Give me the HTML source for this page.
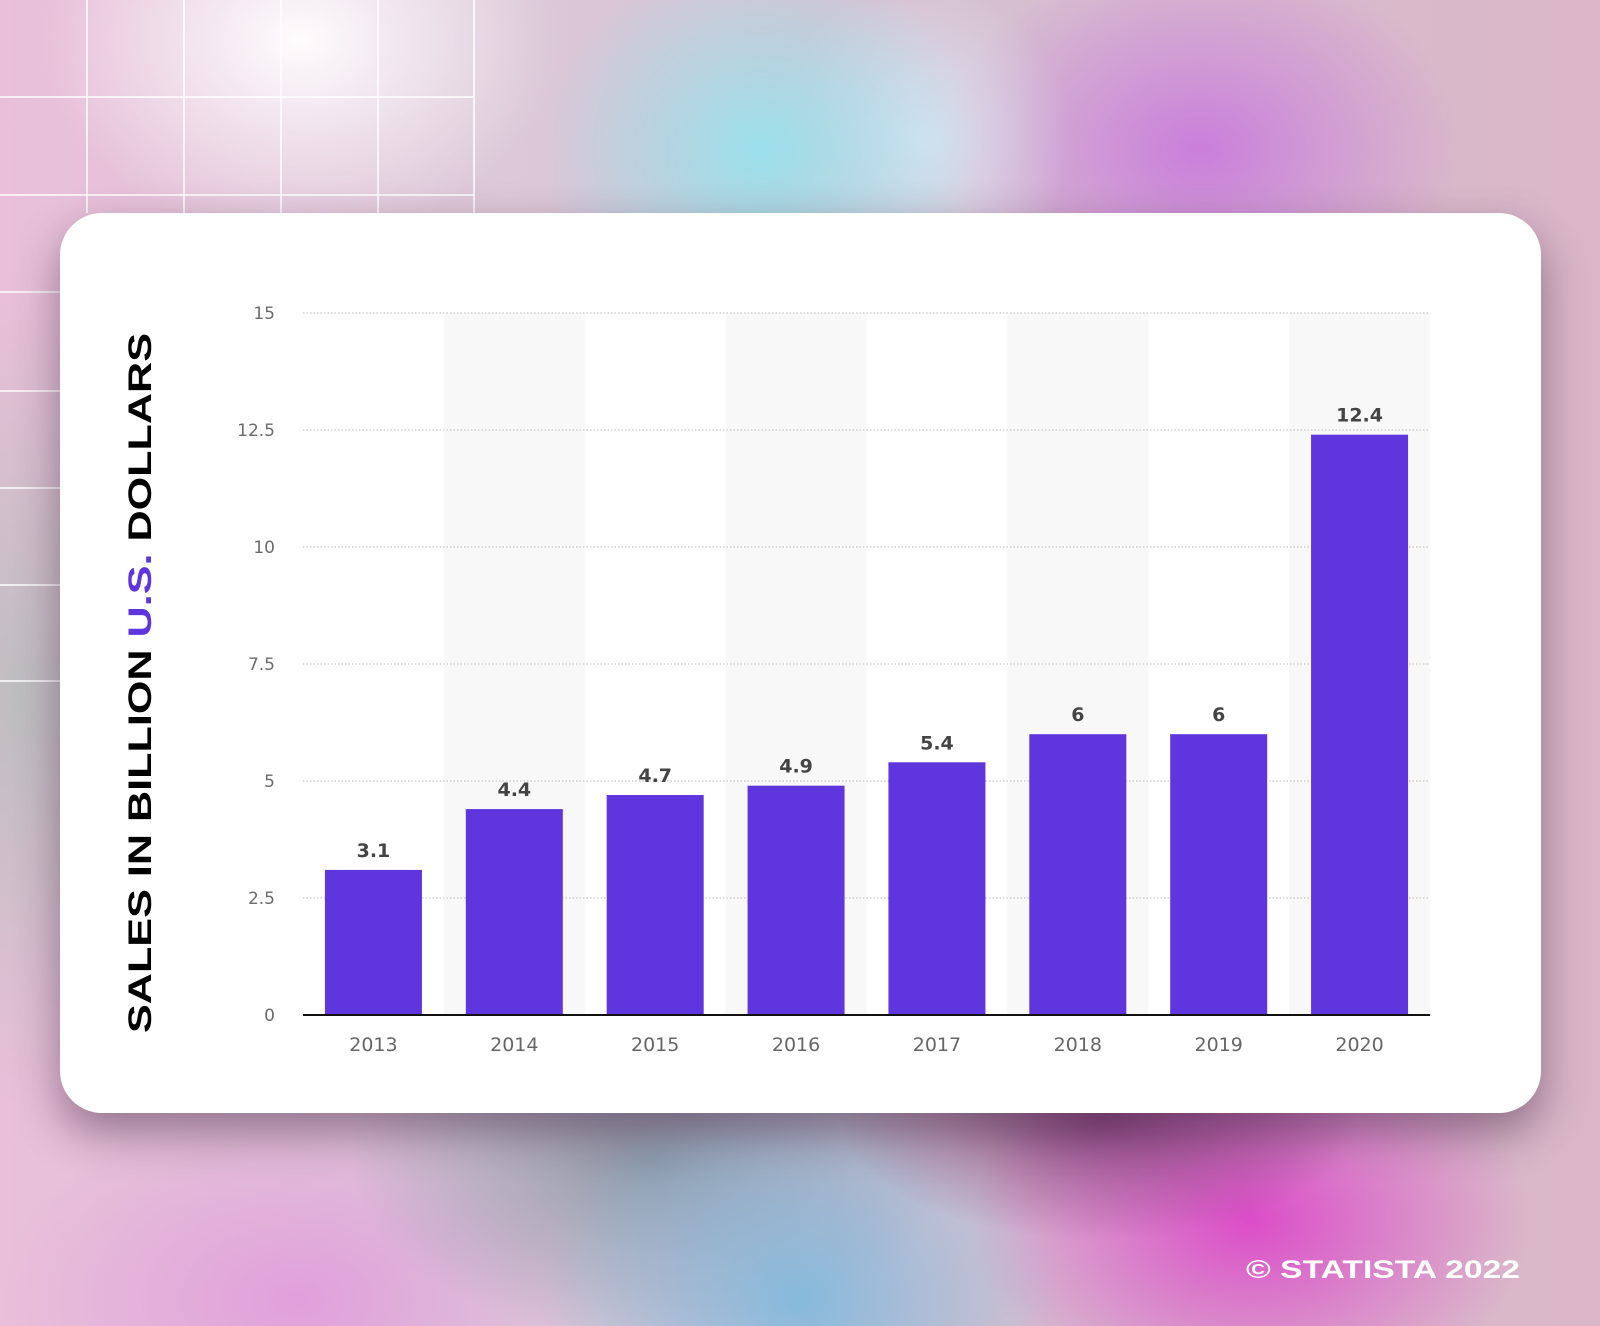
<!DOCTYPE html>
<html><head><meta charset="utf-8"><style>
html,body{margin:0;padding:0}
body{width:1600px;height:1326px;overflow:hidden;position:relative;font-family:"Liberation Sans",sans-serif;
background:
radial-gradient(ellipse 260px 200px at 300px 40px,rgba(255,255,255,0.95),rgba(255,255,255,0) 100%),
radial-gradient(ellipse 220px 200px at 760px 150px,rgba(150,225,235,0.95),rgba(150,225,235,0) 100%),
radial-gradient(ellipse 150px 160px at 920px 140px,rgba(220,230,245,0.9),rgba(220,230,245,0) 100%),
radial-gradient(ellipse 260px 200px at 1200px 150px,rgba(200,120,220,0.9),rgba(200,120,220,0) 100%),
radial-gradient(ellipse 260px 120px at 1100px 1120px,rgba(120,50,110,0.75),rgba(120,50,110,0) 100%),
radial-gradient(ellipse 260px 220px at 800px 1300px,rgba(130,185,220,0.95),rgba(130,185,220,0) 100%),
radial-gradient(ellipse 280px 200px at 1250px 1220px,rgba(220,70,200,0.95),rgba(220,70,200,0) 100%),
radial-gradient(ellipse 300px 180px at 650px 1160px,rgba(130,145,160,0.85),rgba(130,145,160,0) 100%),
radial-gradient(ellipse 300px 200px at 300px 1300px,rgba(225,150,220,0.8),rgba(225,150,220,0) 100%),
radial-gradient(ellipse 200px 400px at 20px 700px,rgba(170,190,180,0.7),rgba(170,190,180,0) 100%),
linear-gradient(90deg,#e9bfd9 0%,#dcc8d8 30%,#d6c0d0 60%,#dab6c8 100%);}
.card{position:absolute;left:60px;top:213px;width:1481px;height:900px;background:#fff;border-radius:42px;box-shadow:0 20px 45px rgba(50,20,50,0.45)}
</style></head><body>
<svg width="1600" height="1326" style="position:absolute;left:0;top:0">
<g stroke="rgba(255,255,255,0.75)" stroke-width="2">
<line x1="87" y1="0" x2="87" y2="213"/><line x1="184" y1="0" x2="184" y2="213"/><line x1="281" y1="0" x2="281" y2="213"/><line x1="378" y1="0" x2="378" y2="213"/><line x1="474" y1="0" x2="474" y2="213"/>
<line x1="0" y1="97" x2="474" y2="97"/><line x1="0" y1="195" x2="474" y2="195"/>
<line x1="0" y1="292" x2="60" y2="292"/><line x1="0" y1="391" x2="60" y2="391"/><line x1="0" y1="488" x2="60" y2="488"/><line x1="0" y1="585" x2="60" y2="585"/><line x1="0" y1="681" x2="60" y2="681"/>
</g></svg>
<div class="card"></div>
<svg id="chart" width="1600" height="1326" style="position:absolute;left:0;top:0">
<text transform="translate(151,1033) rotate(-90)" font-family="Liberation Sans, sans-serif" font-weight="bold" font-size="32" textLength="700" lengthAdjust="spacingAndGlyphs" fill="#000">SALES IN BILLION <tspan fill="#5f35dd">U.S.</tspan> DOLLARS</text>
<text x="1520" y="1278" text-anchor="end" font-family="Liberation Sans, sans-serif" font-weight="bold" font-size="25" textLength="274" lengthAdjust="spacingAndGlyphs" fill="#fff">© STATISTA 2022</text>
</svg>
<script>
const categories=["2013","2014","2015","2016","2017","2018","2019","2020"];
const values=[3.1,4.4,4.7,4.9,5.4,6,6,12.4];
const valueLabels=["3.1","4.4","4.7","4.9","5.4","6","6","12.4"];
const ticks=[0,2.5,5,7.5,10,12.5,15];
const tickLabels=["0","2.5","5","7.5","10","12.5","15"];
const svg=document.getElementById('chart');
const NS="http://www.w3.org/2000/svg";
const L=303,R=1430,Y0=1015,Ymax=313;
const band=(R-L)/categories.length;
const y=v=>Y0-(v/15)*(Y0-Ymax);
const x=i=>L+i*band;
function mk(t,a){const e=document.createElementNS(NS,t);for(const k in a)e.setAttribute(k,a[k]);svg.appendChild(e);return e;}
categories.forEach((c,i)=>{if(i%2===1){const r=mk('rect',{x:x(i),y:Ymax,width:band,height:Y0-Ymax,fill:'#f8f8f8'});

}});
ticks.forEach((t,i)=>{
 if(t>0){const g=mk('line',{x1:L,x2:R,y1:y(t),y2:y(t),stroke:'#bbb','stroke-width':1,'stroke-dasharray':'1.5 2'});
 
 }
 const tx=mk('text',{x:275,y:y(t)+6,'text-anchor':'end','font-size':17,fill:'#6b6b6b','font-family':'DejaVu Sans, sans-serif'});
 tx.textContent=tickLabels[i];
 
 
});
categories.forEach((c,i)=>{
 const bw=97,bx=x(i)+(band-bw)/2;
 const b=mk('rect',{x:bx,y:y(values[i]),width:bw,height:Y0-y(values[i]),fill:'#5f35dd'});
 
 
 const v=mk('text',{x:bx+bw/2,y:y(values[i])-13,'text-anchor':'middle','font-size':19,'font-weight':'bold',fill:'#444','font-family':'DejaVu Sans, sans-serif'});
 v.textContent=valueLabels[i];
 
 
 const xl=mk('text',{x:bx+bw/2,y:1051,'text-anchor':'middle','font-size':19,fill:'#666','font-family':'DejaVu Sans, sans-serif'});
 xl.textContent=c;
 
 
});
const ax=mk('line',{x1:L,x2:R,y1:Y0,y2:Y0,stroke:'#111','stroke-width':2});


</script>
</body></html>
